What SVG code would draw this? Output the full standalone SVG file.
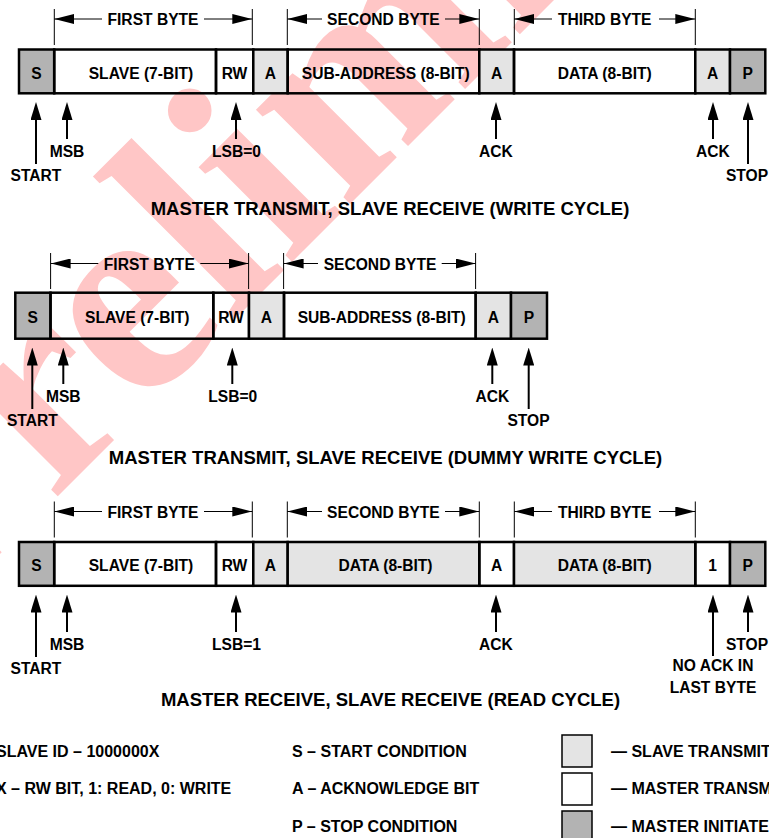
<svg xmlns="http://www.w3.org/2000/svg" width="769" height="838" viewBox="0 0 769 838">
<defs>
<style>
text{font-family:"Liberation Sans",Arial,sans-serif;font-weight:bold;font-size:15.6px;fill:#000}
.c{text-anchor:middle}
.t{font-size:18.5px;text-anchor:middle}
.lt{font-size:16px}
.cell{stroke:#000;stroke-width:2.5}
.w{fill:none}
.lg{fill:#e4e4e4}
.dg{fill:#b3b3b3}
.arr{stroke:#000;stroke-width:2;fill:none;marker-end:url(#ah)}
.dim{stroke:#000;stroke-width:1;fill:none}
.dl{marker-start:url(#dh)}
.dr{marker-end:url(#dh)}
.leg{stroke:#000;stroke-width:1.5}
.wm{font-family:"Liberation Serif","Times New Roman",serif;font-weight:bold;font-size:290px;fill:#ffc6c6}
</style>
<marker id="ah" viewBox="0 0 18 11" refX="8" refY="5.5" markerWidth="18" markerHeight="11" markerUnits="userSpaceOnUse" orient="auto"><path d="M0,0 L18,5.5 L0,11 Z" fill="#000"/></marker>
<marker id="dh" viewBox="0 0 20 10" refX="20" refY="5" markerWidth="20" markerHeight="10" markerUnits="userSpaceOnUse" orient="auto-start-reverse"><path d="M0,0 L20,5 L0,10 Z" fill="#000"/></marker>
</defs>
<rect width="769" height="838" fill="#fff"/>
<text class="wm" transform="translate(-73,627) rotate(-45)">Preliminary</text>

<!-- Row 1 -->
<g id="row1">
<g id="r1-s"><rect class="cell dg" x="19" y="49.5" width="35.2" height="43.8"/><text class="c" x="36.5" y="78.8">S</text></g>
<g id="r1-slave"><rect class="cell w" x="54.2" y="49.5" width="161.8" height="43.8"/><text class="c" x="141" y="78.8">SLAVE (7-BIT)</text></g>
<g id="r1-rw"><rect class="cell w" x="216" y="49.5" width="37.3" height="43.8"/><text class="c" x="234.5" y="78.8">RW</text></g>
<g id="r1-a1"><rect class="cell lg" x="253.3" y="49.5" width="34.4" height="43.8"/><text class="c" x="270.5" y="78.8">A</text></g>
<g id="r1-sub"><rect class="cell w" x="287.7" y="49.5" width="191.6" height="43.8"/><text class="c" x="385.8" y="78.8">SUB-ADDRESS (8-BIT)</text></g>
<g id="r1-a2"><rect class="cell lg" x="479.3" y="49.5" width="34.7" height="43.8"/><text class="c" x="496.7" y="78.8">A</text></g>
<g id="r1-data"><rect class="cell w" x="514" y="49.5" width="181.3" height="43.8"/><text class="c" x="604.7" y="78.8">DATA (8-BIT)</text></g>
<g id="r1-a3"><rect class="cell lg" x="695.3" y="49.5" width="34.7" height="43.8"/><text class="c" x="712.7" y="78.8">A</text></g>
<g id="r1-p"><rect class="cell dg" x="730" y="49.5" width="35.3" height="43.8"/><text class="c" x="747.7" y="78.8">P</text></g>
</g>

<!-- Row 2 -->
<g id="row2">
<g id="r2-s"><rect class="cell dg" x="15.3" y="292.7" width="35.2" height="46"/><text class="c" x="32.8" y="323">S</text></g>
<g id="r2-slave"><rect class="cell w" x="50.5" y="292.7" width="162.8" height="46"/><text class="c" x="137.3" y="323">SLAVE (7-BIT)</text></g>
<g id="r2-rw"><rect class="cell w" x="213.3" y="292.7" width="35.7" height="46"/><text class="c" x="231" y="323">RW</text></g>
<g id="r2-a1"><rect class="cell lg" x="249" y="292.7" width="35" height="46"/><text class="c" x="266.5" y="323">A</text></g>
<g id="r2-sub"><rect class="cell w" x="284" y="292.7" width="191.7" height="46"/><text class="c" x="381.7" y="323">SUB-ADDRESS (8-BIT)</text></g>
<g id="r2-a2"><rect class="cell lg" x="475.7" y="292.7" width="35.3" height="46"/><text class="c" x="493.3" y="323">A</text></g>
<g id="r2-p"><rect class="cell dg" x="511" y="292.7" width="36" height="46"/><text class="c" x="529" y="323">P</text></g>
</g>

<!-- Row 3 -->
<g id="row3">
<g id="r3-s"><rect class="cell dg" x="19" y="542" width="35.2" height="43.8"/><text class="c" x="36.5" y="571.3">S</text></g>
<g id="r3-slave"><rect class="cell w" x="54.2" y="542" width="161.8" height="43.8"/><text class="c" x="141" y="571.3">SLAVE (7-BIT)</text></g>
<g id="r3-rw"><rect class="cell w" x="216" y="542" width="37.3" height="43.8"/><text class="c" x="234.5" y="571.3">RW</text></g>
<g id="r3-a1"><rect class="cell lg" x="253.3" y="542" width="34.4" height="43.8"/><text class="c" x="270.5" y="571.3">A</text></g>
<g id="r3-data1"><rect class="cell lg" x="287.7" y="542" width="191.6" height="43.8"/><text class="c" x="385.5" y="571.3">DATA (8-BIT)</text></g>
<g id="r3-a2"><rect class="cell w" x="479.3" y="542" width="34.7" height="43.8"/><text class="c" x="496.7" y="571.3">A</text></g>
<g id="r3-data2"><rect class="cell lg" x="514" y="542" width="181.3" height="43.8"/><text class="c" x="604.7" y="571.3">DATA (8-BIT)</text></g>
<g id="r3-one"><rect class="cell w" x="695.3" y="542" width="34.7" height="43.8"/><text class="c" x="712.7" y="571.3">1</text></g>
<g id="r3-p"><rect class="cell dg" x="730" y="542" width="35.3" height="43.8"/><text class="c" x="747.7" y="571.3">P</text></g>
</g>

<!-- Byte dimension lines -->
<g id="dimensions">
<path class="dim" d="M54.3,9V45M252.3,9V45M287.3,9V45M479.3,9V45M514.3,9V45M695.3,9V45"/>
<line class="dim dl" x1="54.3" y1="19" x2="102" y2="19"/><line class="dim dr" x1="204" y1="19" x2="252.3" y2="19"/>
<line class="dim dl" x1="287.3" y1="19" x2="322" y2="19"/><line class="dim dr" x1="445" y1="19" x2="479.3" y2="19"/>
<line class="dim dl" x1="514.3" y1="19" x2="552" y2="19"/><line class="dim dr" x1="659" y1="19" x2="695.3" y2="19"/>
<text class="c" x="153" y="25">FIRST BYTE</text>
<text class="c" x="383.4" y="25">SECOND BYTE</text>
<text class="c" x="604.7" y="25">THIRD BYTE</text>

<path class="dim" d="M50.6,253V289M248.6,253V289M283.6,253V289M475.6,253V289"/>
<line class="dim dl" x1="50.6" y1="263.5" x2="98.3" y2="263.5"/><line class="dim dr" x1="200.3" y1="263.5" x2="248.6" y2="263.5"/>
<line class="dim dl" x1="283.6" y1="263.5" x2="318" y2="263.5"/><line class="dim dr" x1="441.7" y1="263.5" x2="475.6" y2="263.5"/>
<text class="c" x="149.3" y="269.5">FIRST BYTE</text>
<text class="c" x="380" y="269.5">SECOND BYTE</text>

<path class="dim" d="M54.3,501.5V537.5M252.3,501.5V537.5M287.3,501.5V537.5M479.3,501.5V537.5M514.3,501.5V537.5M695.3,501.5V537.5"/>
<line class="dim dl" x1="54.3" y1="511.5" x2="102" y2="511.5"/><line class="dim dr" x1="204" y1="511.5" x2="252.3" y2="511.5"/>
<line class="dim dl" x1="287.3" y1="511.5" x2="322" y2="511.5"/><line class="dim dr" x1="445" y1="511.5" x2="479.3" y2="511.5"/>
<line class="dim dl" x1="514.3" y1="511.5" x2="552" y2="511.5"/><line class="dim dr" x1="659" y1="511.5" x2="695.3" y2="511.5"/>
<text class="c" x="153" y="517.5">FIRST BYTE</text>
<text class="c" x="383.4" y="517.5">SECOND BYTE</text>
<text class="c" x="604.7" y="517.5">THIRD BYTE</text>
</g>

<!-- Pointer arrows -->
<g id="connectors">
<line class="arr" x1="36" y1="164" x2="36" y2="112"/>
<line class="arr" x1="67" y1="139" x2="67" y2="112"/>
<line class="arr" x1="236" y1="139" x2="236" y2="112"/>
<line class="arr" x1="496" y1="139" x2="496" y2="112"/>
<line class="arr" x1="713" y1="139" x2="713" y2="112"/>
<line class="arr" x1="748" y1="164" x2="748" y2="112"/>

<line class="arr" x1="32.3" y1="409" x2="32.3" y2="357.5"/>
<line class="arr" x1="63.3" y1="384" x2="63.3" y2="357.5"/>
<line class="arr" x1="232.3" y1="384" x2="232.3" y2="357.5"/>
<line class="arr" x1="492.3" y1="384" x2="492.3" y2="357.5"/>
<line class="arr" x1="528.7" y1="409" x2="528.7" y2="357.5"/>

<line class="arr" x1="36" y1="657" x2="36" y2="604.5"/>
<line class="arr" x1="67" y1="632" x2="67" y2="604.5"/>
<line class="arr" x1="236" y1="632" x2="236" y2="604.5"/>
<line class="arr" x1="496" y1="632" x2="496" y2="604.5"/>
<line class="arr" x1="713" y1="656" x2="713" y2="604.5"/>
<line class="arr" x1="748" y1="632" x2="748" y2="604.5"/>
</g>

<g id="pointer-labels">
<text class="c" x="67" y="157">MSB</text>
<text class="c" x="236.5" y="157">LSB=0</text>
<text class="c" x="36" y="180.5">START</text>
<text class="c" x="496" y="157">ACK</text>
<text class="c" x="713" y="157">ACK</text>
<text class="c" x="747" y="180.5">STOP</text>

<text class="c" x="63.3" y="402">MSB</text>
<text class="c" x="232.8" y="402">LSB=0</text>
<text class="c" x="32.3" y="425.5">START</text>
<text class="c" x="492.3" y="402">ACK</text>
<text class="c" x="528.5" y="425.5">STOP</text>

<text class="c" x="67" y="650">MSB</text>
<text class="c" x="236.5" y="650">LSB=1</text>
<text class="c" x="36" y="673.5">START</text>
<text class="c" x="496" y="650">ACK</text>
<text class="c" x="747" y="650">STOP</text>
<text class="c" x="713" y="671">NO ACK IN</text>
<text class="c" x="713" y="693">LAST BYTE</text>
</g>

<g id="titles">
<text class="t" x="390" y="215">MASTER TRANSMIT, SLAVE RECEIVE (WRITE CYCLE)</text>
<text class="t" x="385.5" y="463.5">MASTER TRANSMIT, SLAVE RECEIVE (DUMMY WRITE CYCLE)</text>
<text class="t" x="390.5" y="706">MASTER RECEIVE, SLAVE RECEIVE (READ CYCLE)</text>
</g>

<g id="legend">
<text class="lt" x="-4" y="757">SLAVE ID – 1000000X</text>
<text class="lt" x="-4" y="794">X – RW BIT, 1: READ, 0: WRITE</text>
<text class="lt" x="292" y="757">S – START CONDITION</text>
<text class="lt" x="292" y="794">A – ACKNOWLEDGE BIT</text>
<text class="lt" x="292" y="832">P – STOP CONDITION</text>
<g id="key-slave"><rect class="leg lg" x="562" y="735" width="30" height="32"/><text class="lt" x="611" y="757">— SLAVE TRANSMIT</text></g>
<g id="key-master"><rect class="leg" fill="#fff" x="562" y="773" width="30" height="32"/><text class="lt" x="611" y="794">— MASTER TRANSMIT</text></g>
<g id="key-init"><rect class="leg dg" x="562" y="811" width="30" height="32"/><text class="lt" x="611" y="832">— MASTER INITIATE</text></g>
</g>
</svg>
